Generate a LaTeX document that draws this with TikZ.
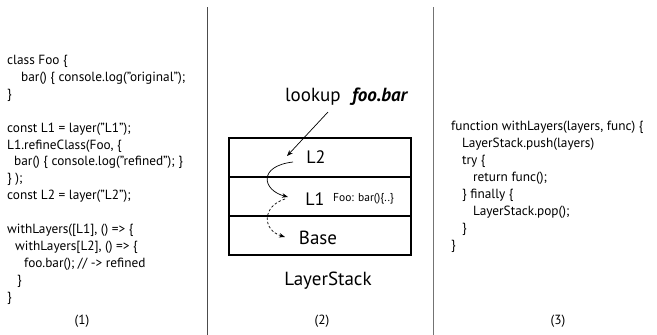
\documentclass[tikz,border=0pt]{standalone}
\usepackage{fontspec}
\setmainfont{PT Sans}
\usetikzlibrary{arrows.meta}
\tikzset{
  code/.style={anchor=base west, inner sep=0pt, font=\fontsize{13.3}{14}\selectfont},
  numlabel/.style={anchor=base, inner sep=0pt, font=\fontsize{13.3}{14}\selectfont},
  layerbox/.style={draw, line width=1.4pt, minimum width=182pt, minimum height=39pt, inner sep=0pt},
  big/.style={inner sep=0pt, font=\fontsize{19}{20}\selectfont},
  layername/.style={inner sep=0pt, font=\fontsize{18}{19}\selectfont},
  divider/.style={draw=black!70, line width=1pt},
  tip/.style={-{Stealth[length=6pt,width=4.5pt]}, line width=0.7pt}
}
\begin{document}
\begin{tikzpicture}[x=1pt,y=-1pt]
\useasboundingbox (0,0) rectangle (657,335);
% dividers
\coordinate (d1t) at (207,7); \coordinate (d1b) at (207,335);
\coordinate (d2t) at (433,7); \coordinate (d2b) at (433,335);
\draw[divider] (d1t) -- (d1b);
\draw[divider,draw=black!55] (d2t) -- (d2b);
% left code
\node[code] (c1) at (7,64.5) {class Foo \{};
\node[code] (c2) at (21,81.4) {bar() \{ console.log(”original”);};
\node[code] (c3) at (7,98.3) {\}};
\node[code] (c4) at (7,132.1) {const L1 = layer(”L1”);};
\node[code] (c5) at (7,149) {L1.refineClass(Foo, \{};
\node[code] (c6) at (14,165.9) {bar() \{ console.log(”refined”); \}};
\node[code] (c7) at (7,182.8) {\} );};
\node[code] (c8) at (7,199.7) {const L2 = layer(”L2”);};
\node[code] (c9) at (7,233.5) {withLayers([L1], () => \{};
\node[code] (c10) at (15,250.4) {withLayers[L2], () => \{};
\node[code] (c11) at (24,267.3) {foo.bar(); // -> refined};
\node[code] (c12) at (17,284.2) {\}};
\node[code] (c13) at (7,301.1) {\}};
\node[numlabel] (n1) at (82,324) {(1)};
% middle
\node[big, anchor=base west] (lookup) at (285,101) {lookup};
\node[big, anchor=base west] (foobar) at (352,101) {\textbf{\textit{foo.bar}}};
\node[layerbox] (bL2) at (320,157.5) {};
\node[layerbox] (bL1) at (320,196.5) {};
\node[layerbox] (bBase) at (320,235.5) {};
\node[layername] (tL2) at (316,157) {L2};
\node[layername] (tL1) at (315,199) {L1};
\node[anchor=west, inner sep=0pt, font=\fontsize{11.5}{12}\selectfont] (foo) at (333,199) {Foo: bar()\{..\}};
\node[big] (tBase) at (318,238) {Base};
\node[big] (ls) at (328,281) {LayerStack};
\node[numlabel] (n2) at (322,324) {(2)};
\coordinate (a0) at (328,112);
\coordinate (a1) at (287,156);
\draw[tip] (a0) -- (a1);
\coordinate (s0) at (293,162);
\coordinate (s1) at (288,197);
\draw[tip] (s0) .. controls (258,166) and (262,190) .. (s1);
\coordinate (t0) at (285,199);
\coordinate (t1) at (285,237);
\draw[tip,dashed,dash pattern=on 2.5pt off 2pt] (t0) .. controls (262,206) and (262,230) .. (t1);
% right code
\node[code] (r1) at (451,130.5) {function withLayers(layers, func) \{};
\node[code] (r2) at (462,147.5) {LayerStack.push(layers)};
\node[code] (r3) at (462,164.5) {try \{};
\node[code] (r4) at (473,181.5) {return func();};
\node[code] (r5) at (462,198.5) {\} finally \{};
\node[code] (r6) at (473,215.5) {LayerStack.pop();};
\node[code] (r7) at (462,232.5) {\}};
\node[code] (r8) at (451,249.5) {\}};
\node[numlabel] (n3) at (558,324) {(3)};
\end{tikzpicture}
\end{document}
